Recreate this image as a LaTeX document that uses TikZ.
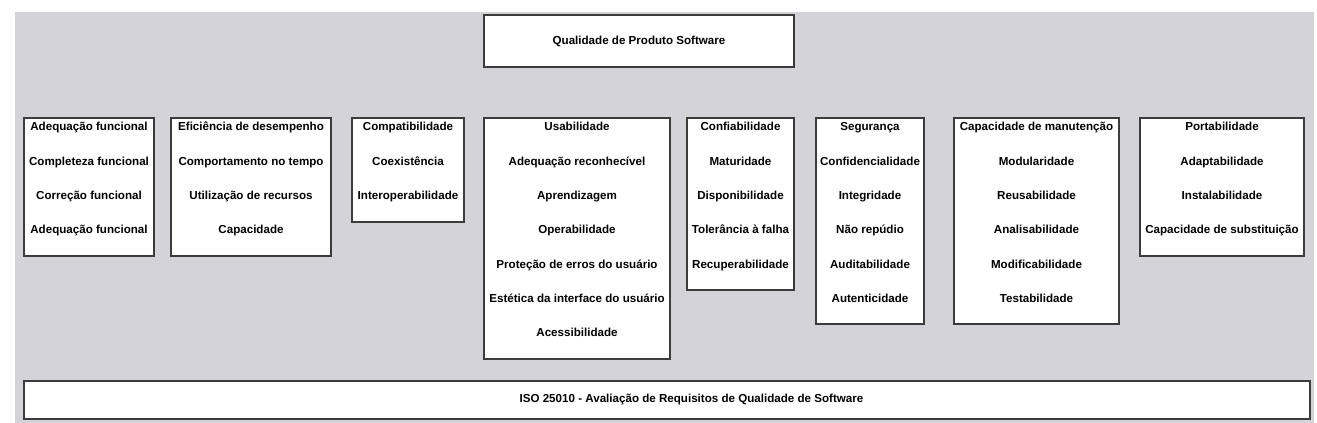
\documentclass[tikz,border=0pt]{standalone}
\usepackage{fontspec}
\setmainfont{Liberation Sans}
\definecolor{hintergrund}{RGB}{211,211,216}
\definecolor{rand}{RGB}{60,60,60}
\tikzset{
  kasten/.style={draw=rand, line width=0.8pt, fill=white},
  eintrag/.style={anchor=base, inner sep=0pt}
}
\begin{document}
\begin{tikzpicture}[x=0.75pt, y=-0.75pt, font=\bfseries\fontsize{8.7}{10}\selectfont]
  \useasboundingbox (0,0) rectangle (1317,423);
  % Hintergrund
  \fill[hintergrund] (15,12) rectangle (1314,423);
  % Oberer Kasten
  \draw[kasten] (484,15) rectangle (794,67) node [midway] (produto) {Qualidade de Produto Software};
  % Merkmale
  \draw[kasten] (24,118) rectangle (154,256);
  \foreach \t [count=\i from 0] in {Adequação funcional, Completeza funcional, Correção funcional, Adequação funcional}
    \node[eintrag] (adeq-\i) at (89, 131+34.33*\i) {\t};
  \draw[kasten] (171,118) rectangle (331,256);
  \foreach \t [count=\i from 0] in {Eficiência de desempenho, Comportamento no tempo, Utilização de recursos, Capacidade}
    \node[eintrag] (efic-\i) at (251, 131+34.33*\i) {\t};
  \draw[kasten] (352,118) rectangle (464,222);
  \foreach \t [count=\i from 0] in {Compatibilidade, Coexistência, Interoperabilidade}
    \node[eintrag] (comp-\i) at (408, 131+34.33*\i) {\t};
  \draw[kasten] (484,118) rectangle (670,359);
  \foreach \t [count=\i from 0] in {Usabilidade, Adequação reconhecível, Aprendizagem, Operabilidade, Proteção de erros do usuário, Estética da interface do usuário, Acessibilidade}
    \node[eintrag] (usab-\i) at (577, 131+34.33*\i) {\t};
  \draw[kasten] (687,118) rectangle (794,290);
  \foreach \t [count=\i from 0] in {Confiabilidade, Maturidade, Disponibilidade, Tolerância à falha, Recuperabilidade}
    \node[eintrag] (conf-\i) at (740.5, 131+34.33*\i) {\t};
  \draw[kasten] (816,118) rectangle (924,324);
  \foreach \t [count=\i from 0] in {Segurança, Confidencialidade, Integridade, Não repúdio, Auditabilidade, Autenticidade}
    \node[eintrag] (seg-\i) at (870, 131+34.33*\i) {\t};
  \draw[kasten] (954,118) rectangle (1119,324);
  \foreach \t [count=\i from 0] in {Capacidade de manutenção, Modularidade, Reusabilidade, Analisabilidade, Modificabilidade, Testabilidade}
    \node[eintrag] (manut-\i) at (1036.5, 131+34.33*\i) {\t};
  \draw[kasten] (1140,118) rectangle (1304,256);
  \foreach \t [count=\i from 0] in {Portabilidade, Adaptabilidade, Instalabilidade, Capacidade de substituição}
    \node[eintrag] (port-\i) at (1222, 131+34.33*\i) {\t};
  % Unterer Kasten
  \draw[kasten] (24,381) rectangle (1310,419);
  \node (iso) at (691.5,400) {ISO 25010 - Avaliação de Requisitos de Qualidade de Software};
\end{tikzpicture}
\end{document}
